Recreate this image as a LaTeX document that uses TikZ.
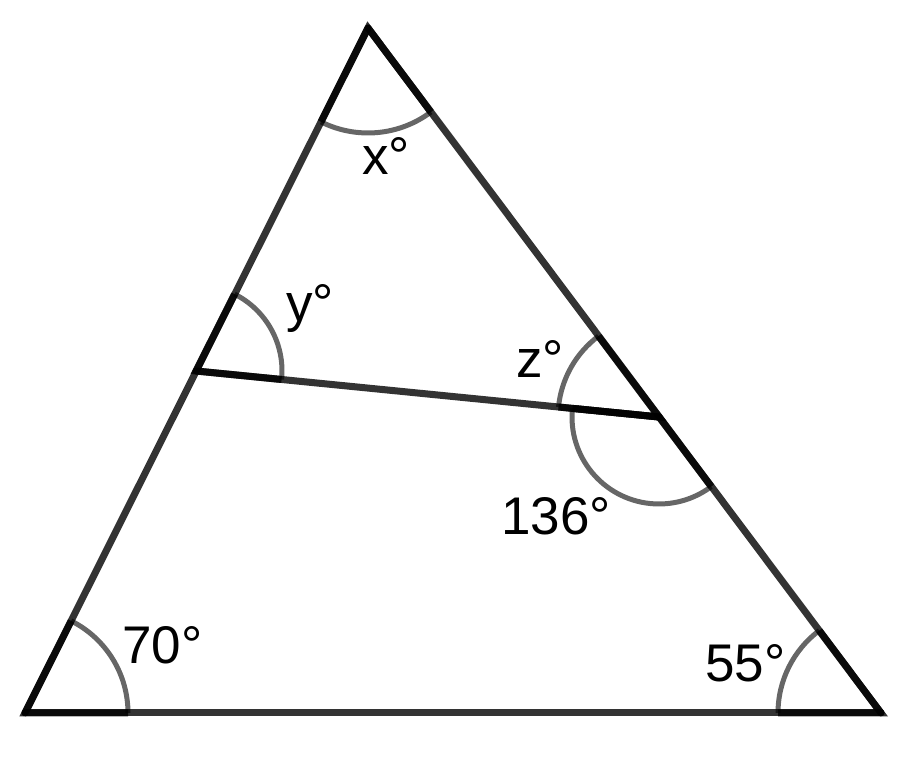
\documentclass[tikz,border=0pt]{standalone}
\usepackage{fontspec}
\setmainfont{Liberation Sans}
\usetikzlibrary{angles, calc}
\tikzset{
	side/.style={draw=black, draw opacity=0.8, line width=3.5pt, line cap=round},
	anglemark/.style={draw=black, draw opacity=0.6, line width=2.5pt},
	lab/.style={anchor=base west, inner sep=0pt, font=\fontsize{26.5}{30}\selectfont}
}
\begin{document}
\begin{tikzpicture}[x=0.5pt, y=0.5pt]
	\useasboundingbox (0,0) rectangle (904,758);
	\coordinate (A) at (368,730);
	\coordinate (B) at (25,45);
	\coordinate (C) at (881,45);
	\coordinate (P) at (196,387);
	\coordinate (Q) at (659,341);
	\draw[side] (B) -- (A);
	\draw[side] (A) -- (C);
	\draw[side] (B) -- (C);
	\draw[side] (P) -- (Q);
	\foreach \a/\v/\b/\r in {B/A/C/52.5pt, Q/P/A/43pt, A/Q/P/50.5pt, P/Q/C/43.5pt, C/B/A/51.5pt, A/C/B/51.5pt} {
		\pic[anglemark, angle radius=\r] {angle=\a--\v--\b};
		\draw[side, line cap=butt] ($(\v)!\r!(\a)$) -- (\v) -- ($(\v)!\r!(\b)$);
	}
	\node[lab] (lx) at (362,583) {x°};
	\node[lab] (ly) at (286,436) {y°};
	\node[lab] (lz) at (516,380) {z°};
	\node[lab] (lq) at (501,223) {136°};
	\node[lab] (lb) at (122,94) {70°};
	\node[lab] (lc) at (705,76) {55°};
\end{tikzpicture}
\end{document}
